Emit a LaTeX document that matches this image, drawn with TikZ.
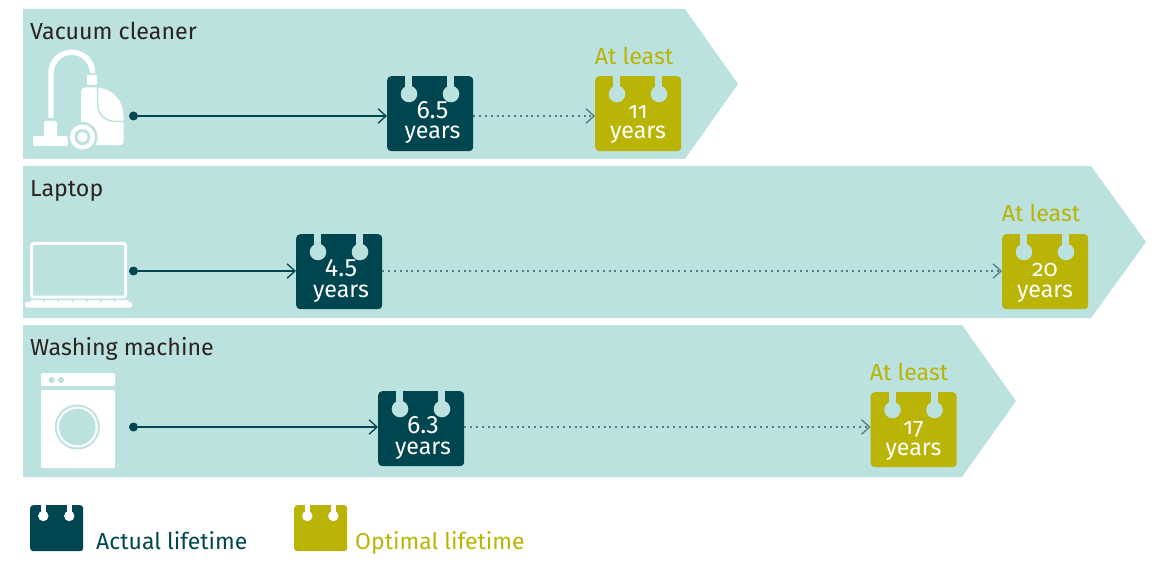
\documentclass[tikz,border=0pt]{standalone}
\usepackage{fontspec}
\setmainfont[Numbers=OldStyle]{Fira Sans}
\newfontfamily\liningfont[Numbers=Lining]{Fira Sans}
\newcommand{\bignum}{\liningfont\fontsize{25}{25}\selectfont}
\usetikzlibrary{arrows.meta,calc}
\definecolor{bandc}{HTML}{BBE2DF}
\definecolor{darkc}{HTML}{004651}
\definecolor{olivec}{HTML}{B9B406}
\definecolor{inkc}{HTML}{2B2320}
\definecolor{dotc}{HTML}{4F7F86}
\tikzset{
  band/.style={fill=bandc,draw=none},
  title/.style={anchor=base west,inner sep=0pt,text=inkc,font=\fontsize{23.2}{24}\selectfont},
  calbox/.style={anchor=north west,inner sep=0pt,minimum width=86pt,minimum height=75pt,rounded corners=4pt,fill=#1,draw=none},
  caltext/.style={anchor=base,inner sep=0pt,text=white,font=\fontsize{23.2}{22}\selectfont},
  atleast/.style={anchor=base,inner sep=0pt,text=olivec,font=\fontsize{23.2}{24}\selectfont},
  startdot/.style={circle,fill=darkc,inner sep=0pt,minimum size=9pt},
  solidline/.style={draw=darkc,line width=1.4pt,-{Straight Barb[length=8pt,width=14.5pt,line width=1.3pt]}},
  dotline/.style={draw=dotc,line width=2pt,dash pattern=on 2pt off 3.8pt,-{Straight Barb[length=8pt,width=14.5pt,line width=1.3pt,color=dotc]}},
  icon/.style={fill=white,draw=none},
  legendtext/.style={anchor=base west,inner sep=0pt,font=\fontsize{23}{24}\selectfont},
  legbox/.style={anchor=north west,inner sep=0pt,minimum width=53pt,minimum height=46pt,rounded corners=3pt,fill=#1,draw=none},
}
% #1 name, #2 left, #3 top, #4 colour, #5 number text, #6 text offset
\newcommand{\lifecal}[6]{%
  \node[calbox=#4] (#1) at (#2,#3) {};
  \fill[bandc] ($(#1.north west)+(18.3,0)$) rectangle ($(#1.north west)+(25.3,18)$);
  \fill[bandc] ($(#1.north west)+(60.3,0)$) rectangle ($(#1.north west)+(67.3,18)$);
  \fill[bandc] ($(#1.north west)+(22,18)$) circle[radius=8.3];
  \fill[bandc] ($(#1.north west)+(64,18)$) circle[radius=8.3];
  \node[caltext] (#1n) at ($(#1.north west)+(#6,42.5)$) {#5};
  \node[caltext] (#1y) at ($(#1.north west)+(#6,63)$) {years};
}
\newcommand{\legcal}[3]{%
  \node[legbox=#3] (#1) at (#2,505) {};
  \fill[white] ($(#1.north west)+(11,0)$) rectangle ($(#1.north west)+(15.5,10)$);
  \fill[white] ($(#1.north west)+(37,0)$) rectangle ($(#1.north west)+(41.5,10)$);
  \fill[white] ($(#1.north west)+(13.3,11)$) circle[radius=5.2];
  \fill[white] ($(#1.north west)+(39.3,11)$) circle[radius=5.2];
}
\begin{document}
\begin{tikzpicture}[x=1pt,y=-1pt]
\useasboundingbox (0,0) rectangle (1162,572);
% bands
\fill[band] (23,9) -- (685,9) -- (738,84) -- (685,159) -- (23,159) -- cycle;
\fill[band] (23,166) -- (1091,166) -- (1146,242) -- (1091,318) -- (23,318) -- cycle;
\fill[band] (23,325) -- (962,325) -- (1016,401) -- (962,477) -- (23,477) -- cycle;
% titles
\node[title] (t1) at (30,39.7) {Vacuum cleaner};
\node[title] (t2) at (30,196.7) {Laptop};
\node[title] (t3) at (30,355) {Washing machine};
% vacuum icon
\draw[white,line width=5.4pt] (51,118) -- (51,73) arc[start angle=180,end angle=360,radius=20.8];
\fill[icon,rounded corners=1pt] (87,75) rectangle (97,85);
\fill[icon,rounded corners=1.5pt] (44,121) rectangle (57,137);
\fill[icon,rounded corners=1.5pt] (33,136) rectangle (68,146);
\fill[icon] (85,87.5) -- (96,87.5) .. controls (112,88) and (123,100) .. (123.5,115) -- (123.5,142) .. controls (123.5,144) and (122,145) .. (120.5,145) -- (84,145) .. controls (82,145) and (81,144) .. (81,142) -- (81,91.5) .. controls (81,89) and (83,87.5) .. (85,87.5) -- cycle;
\draw[bandc,line width=1.5pt] (97.5,87) -- (97.5,104) .. controls (97.5,114) and (105,121.5) .. (116,121.5) -- (124,121.5);
\fill[bandc] (82.5,137) circle[radius=15];
\fill[white] (82.5,137) circle[radius=12.5];
\fill[bandc] (82.5,137) circle[radius=8];
\fill[white] (82.5,137) circle[radius=5.2];
% laptop icon
\draw[white,line width=3pt,rounded corners=2.5pt] (31.5,243.5) rectangle (125.5,297);
\fill[icon,rounded corners=1.5pt] (25,302) rectangle (132,307.5);
\foreach \k in {0,...,6} {\fill[icon,rounded corners=1pt] ({30.5+\k*14.2},300) rectangle ({43.5+\k*14.2},303);}
% washer icon
\fill[icon,rounded corners=2pt] (41,386) -- (41,373) -- (115,373) -- (115,386) [sharp corners] -- cycle;
\fill[icon,rounded corners=2pt] (41,390) -- (41,468) -- (115,468) -- (115,390) [sharp corners] -- cycle;
\fill[bandc] (51.5,380) circle[radius=3.1];
\fill[bandc] (61,380) circle[radius=3.1];
\fill[bandc] (77.3,427) circle[radius=22.5];
\fill[white] (77.3,427) circle[radius=20.5];
\fill[bandc] (77.3,427) circle[radius=18.3];
% calendars
\lifecal{a1}{387}{76}{darkc}{\bignum 6.5}{45.5}
\lifecal{o1}{595}{76}{olivec}{11}{43}
\lifecal{a2}{296}{234}{darkc}{\bignum 4.5}{45}
\lifecal{o2}{1002}{234}{olivec}{20}{43}
\lifecal{a3}{378}{391}{darkc}{\bignum 6.3}{45}
\lifecal{o3}{870.5}{392}{olivec}{17}{43}
% at least
\node[atleast] (l1) at (634,65) {At least};
\node[atleast] (l2) at (1041,222) {At least};
\node[atleast] (l3) at (909,380.5) {At least};
% connectors
\node[startdot] (s1) at (133.5,116) {};
\node[startdot] (s2) at (133.5,271) {};
\node[startdot] (s3) at (133.5,427) {};
\draw[solidline] (s1) -- (s1 -| a1.west);
\draw[solidline] (s2) -- (s2 -| a2.west);
\draw[solidline] (s3) -- (s3 -| a3.west);
\draw[dotline] (s1 -| a1.east) -- (s1 -| o1.west);
\draw[dotline] (s2 -| a2.east) -- (s2 -| o2.west);
\draw[dotline] (s3 -| a3.east) -- (s3 -| o3.west);
% legend
\legcal{la}{30}{darkc}
\legcal{lo}{294}{olivec}
\node[legendtext,text=darkc] (lat) at (96,549) {Actual lifetime};
\node[legendtext,text=olivec] (lot) at (355,549) {Optimal lifetime};
\end{tikzpicture}
\end{document}
